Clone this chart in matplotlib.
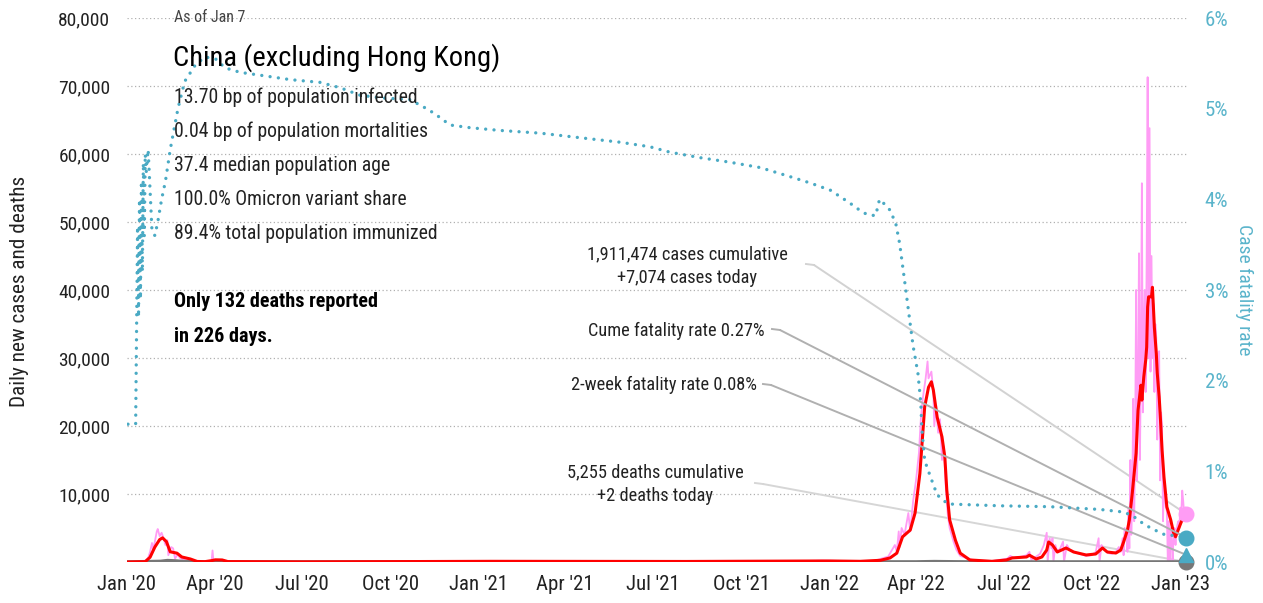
import matplotlib
matplotlib.use("Agg")
import matplotlib.pyplot as plt
import pandas as pd
from matplotlib.lines import Line2D

plt.rcParams['font.family'] = ['Roboto Condensed', 'DejaVu Sans']

# daily new cases (thin pink)
daily_dates = [
    '2020-01-01', '2020-01-18', '2020-01-20', '2020-01-23', '2020-01-25', '2020-01-27', '2020-01-28',
    '2020-01-30', '2020-02-01', '2020-02-02', '2020-02-04', '2020-02-06', '2020-02-08', '2020-02-10',
    '2020-02-12', '2020-02-13', '2020-02-16', '2020-02-18', '2020-02-20', '2020-02-23', '2020-02-25',
    '2020-03-01', '2020-03-07', '2020-03-17', '2020-03-29', '2020-03-30', '2020-03-31', '2020-04-07',
    '2020-04-17', '2020-07-01', '2020-10-01', '2021-01-15', '2021-04-01', '2021-08-05', '2021-11-05',
    '2021-12-25', '2022-01-15', '2022-02-15',
    '2022-03-03', '2022-03-10', '2022-03-12', '2022-03-14', '2022-03-15', '2022-03-17', '2022-03-20',
    '2022-03-24', '2022-03-26', '2022-03-29', '2022-04-01', '2022-04-04', '2022-04-06', '2022-04-08',
    '2022-04-11', '2022-04-13', '2022-04-14', '2022-04-17', '2022-04-19', '2022-04-20', '2022-04-22',
    '2022-04-24', '2022-04-26', '2022-04-28', '2022-04-30', '2022-05-02', '2022-05-04', '2022-05-06',
    '2022-05-10', '2022-05-13', '2022-05-17', '2022-05-23', '2022-06-01', '2022-06-20',
    '2022-07-05', '2022-07-08', '2022-07-12', '2022-07-20', '2022-07-25', '2022-07-28', '2022-07-30',
    '2022-08-03', '2022-08-08', '2022-08-12', '2022-08-15', '2022-08-16', '2022-08-18', '2022-08-20',
    '2022-08-21', '2022-08-22', '2022-08-24', '2022-08-26', '2022-08-29', '2022-09-01', '2022-09-02',
    '2022-09-05', '2022-09-08', '2022-09-12', '2022-09-18', '2022-09-25', '2022-10-01', '2022-10-05',
    '2022-10-08', '2022-10-09', '2022-10-11', '2022-10-14', '2022-10-18', '2022-10-22', '2022-10-26',
    '2022-10-29', '2022-10-31', '2022-11-02', '2022-11-03', '2022-11-04',
    '2022-11-06', '2022-11-07', '2022-11-08', '2022-11-09', '2022-11-10', '2022-11-11', '2022-11-12',
    '2022-11-13', '2022-11-14', '2022-11-15', '2022-11-16', '2022-11-17', '2022-11-18', '2022-11-19',
    '2022-11-20', '2022-11-21', '2022-11-22', '2022-11-23', '2022-11-24', '2022-11-25', '2022-11-26',
    '2022-11-27', '2022-11-28', '2022-11-29', '2022-11-30', '2022-12-01', '2022-12-02', '2022-12-03',
    '2022-12-04', '2022-12-05', '2022-12-06', '2022-12-07', '2022-12-08', '2022-12-09', '2022-12-10',
    '2022-12-11', '2022-12-12', '2022-12-13', '2022-12-14', '2022-12-15', '2022-12-16', '2022-12-17',
    '2022-12-18', '2022-12-19', '2022-12-20', '2022-12-21', '2022-12-22', '2022-12-23', '2022-12-24',
    '2022-12-25', '2022-12-26', '2022-12-27', '2022-12-28', '2022-12-29', '2022-12-30', '2022-12-31',
    '2023-01-01', '2023-01-02', '2023-01-03', '2023-01-04', '2023-01-05', '2023-01-06', '2023-01-07',
]
daily_cases = [
    0, 0, 200, 600, 1500, 2800, 1800,
    3000, 4500, 4850, 3800, 4300, 3500, 2500,
    3200, 1000, 2200, 2000, 500, 1200, 600,
    300, 200, 50, 100, 1700, 100, 300,
    50, 20, 20, 120, 20, 100, 50,
    200, 150, 100,
    800, 2500, 1500, 4500, 2200, 5000, 4000,
    7200, 4500, 9000, 12000, 16000, 21000, 24000,
    27000, 29500, 27000, 28000, 25000, 20000, 23000,
    19000, 21000, 15000, 17000, 11000, 7000, 5000,
    3000, 1800, 900, 600, 200, 150,
    500, 900, 600, 800, 1000, 1500, 300,
    700, 1200, 2500, 4300, 0, 3500, 2000,
    3500, 0, 2500, 1500, 2000, 3000, 0,
    2500, 1800, 1500, 1200, 900, 1000, 1500,
    3500, 0, 2500, 1800, 1300, 1200, 1500,
    2200, 1500, 3500, 1000, 5000,
    4000, 1500, 8000, 2000, 15000, 4000, 10000,
    24000, 6000, 18000, 40000, 12000, 26000, 45400,
    15000, 30000, 55700, 22000, 35000, 40000, 25000,
    45000, 71300, 30000, 63800, 28000, 45000, 30000,
    38000, 25000, 35000, 33000, 18000, 30000, 31000,
    12000, 22000, 20000, 6000, 12000, 9000, 8000,
    7500, 0, 6000, 0, 5000, 3000, 0,
    4000, 5000, 2500, 4500, 5500, 6000, 5000,
    8000, 7000, 10500, 9000, 7000, 8000, 7074,
]

# 7-day average of cases (red)
avg_dates = [
    '2020-01-01', '2020-01-20', '2020-01-25', '2020-01-30', '2020-02-04', '2020-02-07', '2020-02-11',
    '2020-02-15', '2020-02-22', '2020-02-27', '2020-03-07', '2020-03-14', '2020-03-22', '2020-03-29',
    '2020-04-02', '2020-04-09', '2020-04-15', '2020-07-01', '2021-01-15', '2021-08-05', '2021-12-25',
    '2022-01-01', '2022-02-02', '2022-02-23', '2022-03-05', '2022-03-12', '2022-03-18', '2022-03-26',
    '2022-03-31', '2022-04-05', '2022-04-10', '2022-04-14', '2022-04-17', '2022-04-19', '2022-04-23',
    '2022-04-28', '2022-05-01', '2022-05-03', '2022-05-06', '2022-05-12', '2022-05-17', '2022-05-27',
    '2022-06-19', '2022-07-04', '2022-07-10', '2022-07-25', '2022-07-28', '2022-08-04', '2022-08-10',
    '2022-08-15', '2022-08-17', '2022-08-21', '2022-08-26', '2022-09-04', '2022-09-12', '2022-09-25',
    '2022-10-05', '2022-10-12', '2022-10-17', '2022-10-26', '2022-10-31', '2022-11-03', '2022-11-07',
    '2022-11-09', '2022-11-12', '2022-11-16', '2022-11-18', '2022-11-21', '2022-11-22', '2022-11-24',
    '2022-11-26', '2022-11-27', '2022-11-28', '2022-11-29', '2022-12-02', '2022-12-03', '2022-12-04',
    '2022-12-05', '2022-12-07', '2022-12-08', '2022-12-10', '2022-12-11', '2022-12-13', '2022-12-15',
    '2022-12-18', '2022-12-22', '2022-12-25', '2022-12-27', '2023-01-02', '2023-01-05', '2023-01-07',
]
avg_cases = [
    0, 50, 700, 2200, 3300, 3550, 3000,
    1500, 1300, 740, 440, 80, 50, 200,
    320, 300, 60, 20, 100, 80, 150,
    150, 100, 250, 600, 1300, 3700, 4700,
    7200, 13000, 22800, 25700, 26500, 25300, 21300,
    18400, 15400, 10600, 6200, 3200, 1300, 300,
    100, 300, 600, 740, 1000, 440, 740,
    1760, 2940, 2500, 1470, 2060, 1470, 1030,
    1180, 2060, 1470, 1320, 1760, 2940, 4700,
    6200, 10100, 16000, 22300, 26000, 23800, 27200,
    29700, 31600, 37500, 39000, 39000, 40400, 37500,
    34500, 30700, 27800, 24300, 21900, 16500, 12500,
    8100, 6200, 4300, 3700, 5900, 6600, 7074,
]

# daily deaths (grey)
death_dates = ['2020-01-01', '2020-01-25', '2020-02-05', '2020-02-12', '2020-02-20', '2020-03-01',
               '2020-03-15', '2020-04-01', '2021-01-01', '2022-04-01', '2022-04-20', '2022-05-10',
               '2022-06-01', '2022-12-01', '2023-01-07']
deaths = [0, 50, 80, 200, 150, 40, 10, 5, 0, 5, 50, 20, 0, 2, 2]

# case fatality rate, % (right axis)
cfr_dates = [
    '2020-01-02', '2020-01-10', '2020-01-11', '2020-01-12', '2020-01-13', '2020-01-14', '2020-01-15',
    '2020-01-16', '2020-01-17', '2020-01-18', '2020-01-19', '2020-01-20', '2020-01-21', '2020-01-23',
    '2020-01-27', '2020-01-30', '2020-02-02', '2020-02-06', '2020-02-10', '2020-02-15', '2020-02-23',
    '2020-03-01', '2020-03-12', '2020-03-22', '2020-04-02', '2020-04-12', '2020-04-28', '2020-05-18',
    '2020-06-19', '2020-07-20', '2020-08-10', '2020-08-30', '2020-09-20', '2020-10-21', '2020-11-01',
    '2020-11-11', '2020-11-22', '2020-12-02', '2020-12-23', '2021-01-23', '2021-03-06', '2021-04-16',
    '2021-05-28', '2021-06-28', '2021-07-19', '2021-08-19', '2021-09-19', '2021-10-21', '2021-11-21',
    '2021-12-12', '2022-01-02', '2022-01-22', '2022-02-04', '2022-02-10', '2022-02-18', '2022-02-22',
    '2022-02-26', '2022-03-05', '2022-03-11', '2022-03-15', '2022-03-21', '2022-03-26', '2022-03-29',
    '2022-04-03', '2022-04-06', '2022-04-07', '2022-04-10', '2022-04-16', '2022-04-23', '2022-05-04',
    '2022-06-27', '2022-08-18', '2022-10-09', '2022-11-04', '2022-11-15', '2022-11-25', '2022-12-06',
    '2022-12-16', '2022-12-27', '2023-01-07',
]
cfr = [
    1.52, 1.52, 2.6, 3.7, 2.7, 4.0, 2.9,
    4.2, 3.2, 4.4, 3.6, 4.5, 4.3, 4.55,
    3.65, 3.6, 3.75, 4.0, 4.2, 4.55, 5.0,
    5.3, 5.48, 5.57, 5.55, 5.45, 5.4, 5.37,
    5.32, 5.29, 5.23, 5.15, 5.12, 5.1, 5.04,
    4.98, 4.9, 4.82, 4.79, 4.76, 4.73, 4.68,
    4.63, 4.58, 4.52, 4.46, 4.41, 4.35, 4.25,
    4.18, 4.1, 3.96, 3.86, 3.83, 3.82, 4.0,
    3.96, 3.88, 3.73, 3.51, 3.03, 2.62, 2.38,
    2.08, 1.75, 1.48, 1.12, 0.94, 0.74, 0.64,
    0.62, 0.61, 0.58, 0.55, 0.49, 0.41, 0.35,
    0.30, 0.29, 0.27,
]

last_date = '2023-01-07'
cases_today = 7074
cfr_cume = 0.27
cfr_2wk = 0.08
deaths_today = 2

tick_dates = pd.date_range('2020-01-01', '2023-01-01', freq='3MS')
tick_labels = ["Jan '20", "Apr '20", "Jul '20", "Oct '20", "Jan '21", "Apr '21", "Jul '21",
               "Oct '21", "Jan '22", "Apr '22", "Jul '22", "Oct '22", "Jan '23"]

stats = ['13.70 bp of population infected', '0.04 bp of population mortalities',
         '37.4 median population age', '100.0% Omicron variant share',
         '89.4% total population immunized']

PINK = '#ff9cf5'
RED = '#ff0000'
CYAN = '#4aaac4'
GREY = '#777777'

W, H = 1263, 603
fig = plt.figure(figsize=(W / 100, H / 100), dpi=100)
ax = fig.add_axes([127 / W, 1 - 562 / H, (1188 - 127) / W, (562 - 18) / H])
ax2 = ax.twinx()

end = pd.Timestamp(last_date)

ax.plot(pd.to_datetime(daily_dates), daily_cases, color=PINK, lw=1.3, zorder=2)
ax.plot(pd.to_datetime(death_dates), deaths, color=GREY, lw=2.6, zorder=3)
ax.plot(pd.to_datetime(avg_dates), avg_cases, color=RED, lw=2.2, zorder=4)
ax2.plot(pd.to_datetime(cfr_dates), cfr, color=CYAN, lw=2.4,
         linestyle=(0, (0.01, 2.5)), dash_capstyle='round', zorder=3)

ax.plot(end, cases_today, 'o', ms=10.5, color=PINK, clip_on=False, zorder=6)
ax.plot(end, deaths_today, 'o', ms=10.5, color=GREY, clip_on=False, zorder=6)
ax2.plot(end, cfr_cume, 'o', ms=10.5, color=CYAN, clip_on=False, zorder=6)
ax2.plot(end, cfr_2wk, '^', ms=10.5, color=CYAN, clip_on=False, zorder=6)

ax.set_xlim(pd.Timestamp('2020-01-01'), pd.Timestamp('2023-01-09'))
ax.set_ylim(0, 80000)
ax2.set_ylim(0, 6)

ax.set_yticks(range(10000, 80001, 10000))
ax.set_yticklabels([f'{v:,}' for v in range(10000, 80001, 10000)])
ax.yaxis.grid(True, linestyle=(0, (1, 2)), color='#b0b0b0', lw=0.9)
ax.set_axisbelow(True)
ax.set_xticks(tick_dates)
ax.set_xticklabels(tick_labels)
ax2.set_yticks(range(0, 7))
ax2.set_yticklabels([f'{v}%' for v in range(0, 7)])

for a in (ax, ax2):
    for s in a.spines.values():
        s.set_visible(False)
ax.tick_params(axis='y', length=0, labelsize=14, pad=12, labelcolor='#222222')
ax.tick_params(axis='x', length=0, labelsize=15, pad=9, labelcolor='#222222')
ax2.tick_params(axis='y', length=0, labelsize=15, pad=12, labelcolor='#5ab4cb')


def fx(px):
    return px / W


def fy(py):
    return 1 - py / H


fig.text(fx(20), fy(291), 'Daily new cases and deaths', rotation=90, ha='center', va='center',
         fontsize=15.3, color='#222222')
fig.text(fx(1244), fy(290), 'Case fatality rate', rotation=270, ha='center', va='center',
         fontsize=14, color='#5ab4cb')

fig.text(fx(174), fy(18), 'As of Jan 7', fontsize=11.5, color='#444444', va='center')
fig.text(fx(173), fy(58), 'China (excluding Hong Kong)', fontsize=20.5, color='black', va='center')
for i, s in enumerate(stats):
    fig.text(fx(174), fy(97 + 34.2 * i), s, fontsize=14.2, color='#222222', va='center')
fig.text(fx(174), fy(301), 'Only 132 deaths reported', fontsize=14.5, weight='bold', va='center')
fig.text(fx(174), fy(336), 'in 226 days.', fontsize=14.5, weight='bold', va='center')

fig.text(fx(687), fy(266), '1,911,474 cases cumulative\n+7,074 cases today', ha='center', va='center',
         fontsize=13.2, color='#222222', linespacing=1.4)
fig.text(fx(765), fy(331), 'Cume fatality rate 0.27%', ha='right', va='center', fontsize=13.2, color='#222222')
fig.text(fx(757), fy(385), '2-week fatality rate 0.08%', ha='right', va='center', fontsize=13.2, color='#222222')
fig.text(fx(655), fy(484), '5,255 deaths cumulative\n+2 deaths today', ha='center', va='center',
         fontsize=13.2, color='#222222', linespacing=1.4)

leaders = [
    ((806, 264), ax, cases_today, '#d2d2d2'),
    ((772, 329), ax2, cfr_cume, '#b0b0b0'),
    ((763, 384), ax2, cfr_2wk, '#b0b0b0'),
    ((755, 483), ax, deaths_today, '#d6d6d6'),
]
for (px, py), a, val, col in leaders:
    fig.add_artist(Line2D([fx(px), fx(px + 8)], [fy(py), fy(py + 1)], color=col, lw=1.4,
                          transform=fig.transFigure))
    a.annotate('', xy=(end, val), xycoords='data', xytext=(px + 8, H - py - 1),
               textcoords='figure pixels',
               arrowprops=dict(arrowstyle='-', color=col, lw=1.4, shrinkA=0, shrinkB=0), zorder=1)

fig.savefig('out.png', dpi=100)
